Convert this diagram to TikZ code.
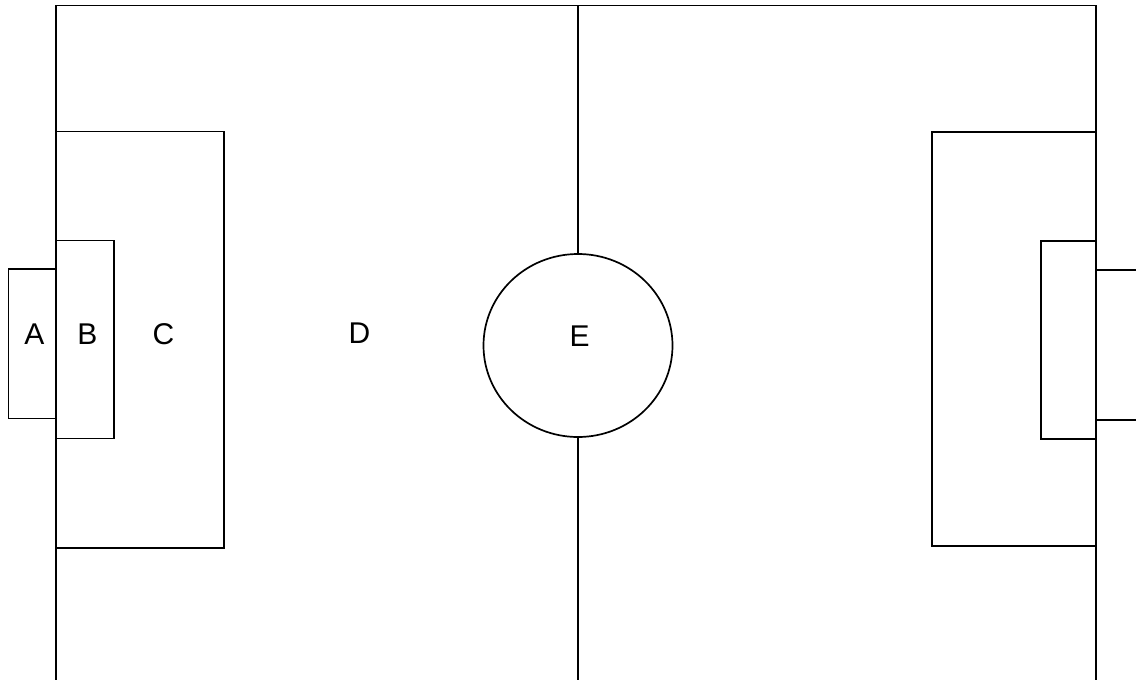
\documentclass[tikz,border=0pt]{standalone}
\usepackage{fontspec}
\setmainfont{Liberation Sans}
\usetikzlibrary{shapes.geometric}

\begin{document}
\begin{tikzpicture}[x=1pt, y=-1pt, line width=1.7pt,
    every node/.style={font=\fontsize{30}{36}\selectfont},
    zone/.style={anchor=base, inner sep=0pt}]

    % --- 1. 描画範囲 ---
    \useasboundingbox (0, 0) rectangle (1136, 680);

    % --- 2. 外枠とハーフウェイライン ---
    \draw (56, 680) -- (56, 5.5) -- (1096, 5.5) -- (1096, 680);
    \node[draw, ellipse, inner sep=0pt, minimum width=189, minimum height=183] (circ) at (578, 345.5) {};
    \coordinate (midtop) at (578, 5.5);
    \coordinate (midbot) at (578, 680);
    \draw (midtop) -- (circ.north);
    \draw (circ.south) -- (midbot);

    % --- 3. 左側 (ゴール, ゴールエリア, ペナルティエリア) ---
    \draw (56, 269) -- (8.5, 269) -- (8.5, 418.5) -- (56, 418.5);
    \draw (56, 240.5) -- (114, 240.5) -- (114, 438.5) -- (56, 438.5);
    \draw (56, 131.5) -- (224, 131.5) -- (224, 548) -- (56, 548);

    % --- 4. 右側 ---
    \draw (1140, 270) -- (1096, 270);
    \draw (1140, 420) -- (1096, 420);
    \draw (1096, 241) -- (1041, 241) -- (1041, 439) -- (1096, 439);
    \draw (1096, 132) -- (932, 132) -- (932, 546) -- (1096, 546);

    % --- 5. ラベル ---
    \node[zone] (lblA) at (34.5, 344) {A};
    \node[zone] (lblB) at (87.5, 344) {B};
    \node[zone] (lblC) at (163.5, 344) {C};
    \node[zone] (lblD) at (359.5, 343.5) {D};
    \node[zone] (lblE) at (579.5, 346.5) {E};

  \end{tikzpicture}
\end{document}
